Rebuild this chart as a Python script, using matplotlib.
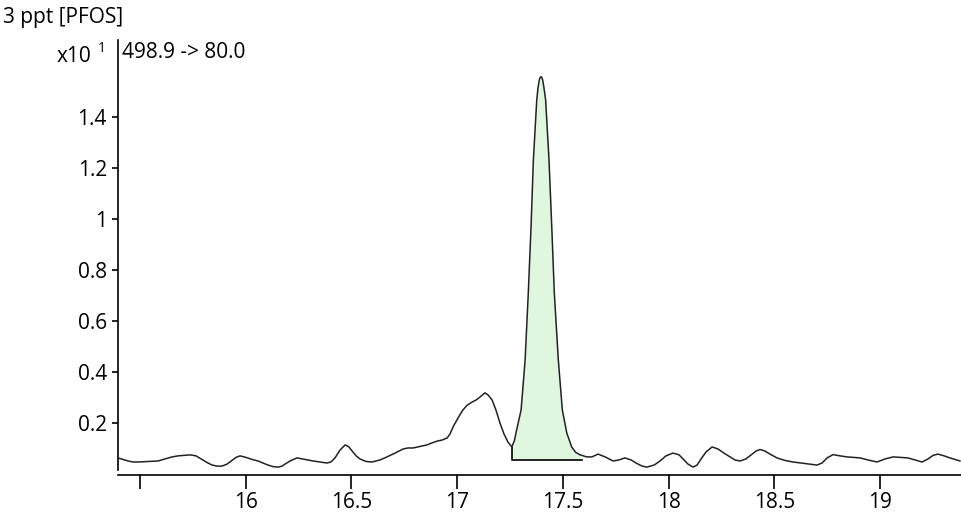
import matplotlib
matplotlib.use("Agg")
import matplotlib.pyplot as plt

plt.rcParams['font.family'] = ['Open Sans', 'DejaVu Sans']

# Retention time (min) and signal (x10^1 counts)
rt = [15.396, 15.420, 15.444, 15.467, 15.491, 15.538, 15.585, 15.618, 15.652, 15.680,
      15.708, 15.737, 15.765, 15.793, 15.817, 15.841, 15.864, 15.888, 15.912, 15.935,
      15.954, 15.973, 16.001, 16.030, 16.058, 16.082, 16.105, 16.129, 16.153, 16.172,
      16.186, 16.214, 16.243, 16.280, 16.318, 16.351, 16.384, 16.403, 16.422, 16.446,
      16.470, 16.488, 16.503, 16.522, 16.540, 16.569, 16.597, 16.635, 16.668, 16.706,
      16.744, 16.767, 16.791, 16.824, 16.857, 16.881, 16.905, 16.928, 16.952, 16.966,
      16.980, 17.004, 17.027, 17.046, 17.070, 17.089, 17.108, 17.131, 17.146, 17.165,
      17.183, 17.202, 17.221, 17.240, 17.258, 17.270, 17.281, 17.302, 17.321, 17.336,
      17.349, 17.360, 17.376, 17.382, 17.388, 17.392, 17.396, 17.400, 17.404, 17.410,
      17.418, 17.434, 17.447, 17.459,
      17.478, 17.497, 17.518, 17.541, 17.560, 17.581, 17.612, 17.637, 17.666, 17.699,
      17.737, 17.765, 17.793, 17.822, 17.850, 17.874, 17.897, 17.931, 17.959, 17.987,
      18.020, 18.049, 18.072, 18.091, 18.115, 18.134, 18.153, 18.176, 18.205, 18.233,
      18.261, 18.290, 18.313, 18.337, 18.365, 18.394, 18.413, 18.432, 18.455, 18.479,
      18.512, 18.550, 18.588, 18.644, 18.701, 18.725, 18.749, 18.777, 18.810, 18.843,
      18.871, 18.905, 18.942, 18.985, 19.023, 19.061, 19.094, 19.131, 19.165, 19.198,
      19.226, 19.250, 19.273, 19.302, 19.330, 19.354, 19.377]
signal = [0.063, 0.057, 0.051, 0.047, 0.047, 0.049, 0.051, 0.059, 0.067, 0.071,
          0.073, 0.075, 0.071, 0.057, 0.045, 0.035, 0.031, 0.031, 0.039, 0.053,
          0.065, 0.071, 0.065, 0.057, 0.051, 0.043, 0.035, 0.029, 0.027, 0.031,
          0.039, 0.053, 0.063, 0.057, 0.051, 0.047, 0.043, 0.047, 0.063, 0.094,
          0.114, 0.106, 0.090, 0.071, 0.059, 0.049, 0.047, 0.055, 0.067, 0.082,
          0.098, 0.102, 0.102, 0.108, 0.114, 0.122, 0.129, 0.133, 0.141, 0.157,
          0.184, 0.220, 0.251, 0.269, 0.282, 0.290, 0.302, 0.318, 0.310, 0.290,
          0.251, 0.200, 0.157, 0.125, 0.106, 0.130, 0.173, 0.251, 0.447, 0.710,
          0.969, 1.231, 1.467, 1.515, 1.545, 1.555, 1.558, 1.555, 1.545, 1.515,
          1.467, 1.231, 0.969, 0.710,
          0.447, 0.251, 0.161, 0.106, 0.085, 0.075, 0.067, 0.067, 0.078, 0.067,
          0.051, 0.055, 0.063, 0.055, 0.041, 0.031, 0.027, 0.035, 0.051, 0.071,
          0.082, 0.075, 0.055, 0.039, 0.027, 0.035, 0.059, 0.086, 0.106, 0.098,
          0.082, 0.067, 0.055, 0.051, 0.059, 0.078, 0.090, 0.096, 0.090, 0.078,
          0.063, 0.053, 0.047, 0.041, 0.035, 0.043, 0.063, 0.076, 0.071, 0.067,
          0.065, 0.063, 0.055, 0.047, 0.059, 0.067, 0.065, 0.063, 0.055, 0.047,
          0.059, 0.073, 0.078, 0.071, 0.063, 0.057, 0.051]

# Integrated peak region
peak_start = 17.258
peak_end = 17.589
peak_baseline = 0.055

xticks = [15.5, 16, 16.5, 17, 17.5, 18, 18.5, 19]
xticklabels = ["", "16", "16.5", "17", "17.5", "18", "18.5", "19"]
yticks = [0.2, 0.4, 0.6, 0.8, 1.0, 1.2, 1.4]
yticklabels = ["0.2", "0.4", "0.6", "0.8", "1", "1.2", "1.4"]

title = "3 ppt [PFOS]"
transition = "498.9 -> 80.0"

fig = plt.figure(figsize=(9.61, 5.21), dpi=100)
ax = fig.add_axes([118/961, 46/521, 843/961, 435/521])

# fill of integrated peak
px = [t for t in rt if peak_start <= t <= peak_end]
py = [s for t, s in zip(rt, signal) if peak_start <= t <= peak_end]
ax.fill_between(px, py, peak_baseline, color='#dff7df', linewidth=0, zorder=1)
ax.plot([peak_start, peak_start, peak_end], [py[0], peak_baseline, peak_baseline],
        color='black', lw=1.2, zorder=2)
ax.plot(rt, signal, color='#222222', lw=1.1, zorder=3, solid_joinstyle='round')

ax.set_xlim(15.396, 19.382)
ax.set_ylim(-0.004, 1.702)
ax.spines['top'].set_visible(False)
ax.spines['right'].set_visible(False)
ax.spines['left'].set_bounds(0.016, 1.702)
ax.spines['left'].set_linewidth(1.2)
ax.spines['bottom'].set_linewidth(1.2)

ax.set_xticks(xticks)
ax.set_xticklabels(xticklabels)
ax.set_yticks(yticks)
ax.set_yticklabels(yticklabels)
ax.tick_params(axis='x', direction='out', length=10, width=1.2, pad=2, labelsize=15)
ax.tick_params(axis='y', direction='out', length=4, width=1.2, pad=4, labelsize=15)

fig.text(3/961, 1 - 17/521, title, fontsize=15, va='center', ha='left')
fig.text(122/961, 1 - 52/521, transition, fontsize=15, va='center', ha='left')
fig.text(91/961, 1 - 57/521, "x10", fontsize=15, va='center', ha='right')
fig.text(98/961, 1 - 49/521, "1", fontsize=10, va='center', ha='left')

fig.savefig("out.png", dpi=100)
